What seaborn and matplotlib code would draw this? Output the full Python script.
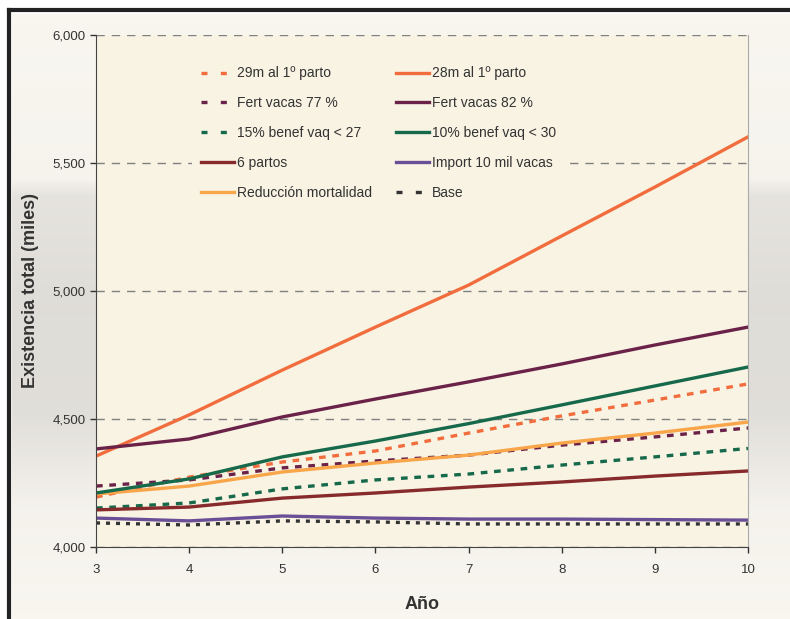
import numpy as np
import pandas as pd
import matplotlib.pyplot as plt
import seaborn as sns
from matplotlib.lines import Line2D
from matplotlib.ticker import FuncFormatter

# Years on x axis
anios = [3, 4, 5, 6, 7, 8, 9, 10]

# Series values (miles de cabezas)
m29_parto = [4195, 4273, 4332, 4375, 4445, 4512, 4574, 4637]
fert_77 = [4238, 4262, 4309, 4336, 4359, 4398, 4430, 4465]
benef_15 = [4152, 4172, 4227, 4262, 4285, 4320, 4352, 4385]
seis_partos = [4145, 4156, 4191, 4211, 4234, 4254, 4277, 4297]
red_mortalidad = [4207, 4238, 4293, 4328, 4359, 4406, 4445, 4488]
m28_parto = [4355, 4516, 4691, 4859, 5023, 5215, 5406, 5602]
fert_82 = [4383, 4422, 4508, 4578, 4645, 4715, 4789, 4859]
benef_10 = [4211, 4266, 4352, 4414, 4482, 4555, 4629, 4703]
import_10 = [4113, 4102, 4121, 4113, 4109, 4109, 4107, 4105]
base = [4094, 4086, 4102, 4098, 4090, 4090, 4090, 4090]

series = [
    ("29m al 1º parto", m29_parto, "#F26D3D", (2.0, 2.0)),
    ("Fert vacas 77 %", fert_77, "#6B2249", (2.0, 2.0)),
    ("15% benef vaq < 27", benef_15, "#16694A", (2.0, 2.0)),
    ("6 partos", seis_partos, "#862A2C", None),
    ("Reducción mortalidad", red_mortalidad, "#F9A64B", None),
    ("28m al 1º parto", m28_parto, "#F26D3D", None),
    ("Fert vacas 82 %", fert_82, "#6B2249", None),
    ("10% benef vaq < 30", benef_10, "#16694A", None),
    ("Import 10 mil vacas", import_10, "#6B4F96", None),
    ("Base", base, "#333333", (1.2, 1.8)),
]

plt.rcParams['font.family'] = ['Liberation Sans', 'DejaVu Sans']
fig = plt.figure(figsize=(7.9, 6.19), dpi=100)
fig.patch.set_facecolor('white')

# gray gradient background with frame
bg = fig.add_axes([12 / 790, 0, 1 - 12 / 790, 1 - 14 / 619], zorder=-10)
ys = np.linspace(0, 1, 300)
pts_y = [0, 0.27, 0.30, 0.48, 0.66, 0.82, 1]
pts_v = [0.975, 0.965, 0.90, 0.875, 0.88, 0.96, 0.975]
v = np.interp(ys, pts_y, pts_v)
grad = np.stack([v, v * 0.99, v * 0.965], axis=-1)[:, None, :]
bg.imshow(grad, aspect='auto', extent=[0, 1, 0, 1])
bg.set_axis_off()
fig.add_artist(Line2D([9 / 790, 9 / 790], [0, 1 - 10 / 619], color='#222222', lw=3,
                      transform=fig.transFigure))
fig.add_artist(Line2D([9 / 790, 1], [1 - 10 / 619, 1 - 10 / 619], color='#222222', lw=3,
                      transform=fig.transFigure))

ax = fig.add_axes([96 / 790, 1 - 547 / 619, (748 - 96) / 790, (547 - 35) / 619])
ax.set_facecolor('#F8F3E3')

for name, vals, color, dash in series:
    df = pd.DataFrame({'Año': anios, 'valor': vals})
    sns.lineplot(data=df, x='Año', y='valor', ax=ax, color=color, lw=2.4, label=name)
    l = ax.get_lines()[-1]
    if dash is not None:
        l.set_dashes(dash)
        l.set_dash_capstyle('butt')

ax.set_xlim(3, 10)
ax.set_ylim(4000, 6000)
ax.set_xticks(anios)
ax.set_yticks([4000, 4500, 5000, 5500, 6000])
ax.yaxis.set_major_formatter(FuncFormatter(lambda y, p: f"{int(y):,}"))
ax.grid(axis='y', color='#808080', ls=(0, (6, 5)), lw=1)
ax.set_axisbelow(True)
ax.tick_params(axis='both', labelsize=9.5, colors='#333333', length=4, width=1, direction='out')
ax.tick_params(axis='x', pad=8)
ax.spines['top'].set_visible(False)
ax.spines['right'].set_color('#AAAAAA')
ax.spines['left'].set_color('#444444')
ax.spines['bottom'].set_color('#444444')
ax.set_xlabel('Año', fontsize=13, fontweight='bold', color='#333333')
ax.set_ylabel('Existencia total (miles)', fontsize=13, fontweight='bold', color='#333333')
ax.xaxis.set_label_coords(0.5, -0.095)
ax.yaxis.set_label_coords(-0.088, 0.5)

leg = ax.legend(ncol=2, loc='upper left', bbox_to_anchor=(0.148, 0.955), frameon=True,
                fontsize=10, handlelength=2.4, handletextpad=0.2, labelspacing=1.15,
                columnspacing=1.7, borderaxespad=0, borderpad=0.6)
leg.get_frame().set_facecolor('#F8F3E3')
leg.get_frame().set_edgecolor('none')
leg.get_frame().set_alpha(1)
for t in leg.get_texts():
    t.set_color('#333333')
for h, (name, vals, color, dash) in zip(leg.get_lines(), series):
    if dash is not None:
        h.set_dashes((1.8, 4.0))
        h.set_dash_capstyle('butt')

fig.savefig('out.png', dpi=100)
